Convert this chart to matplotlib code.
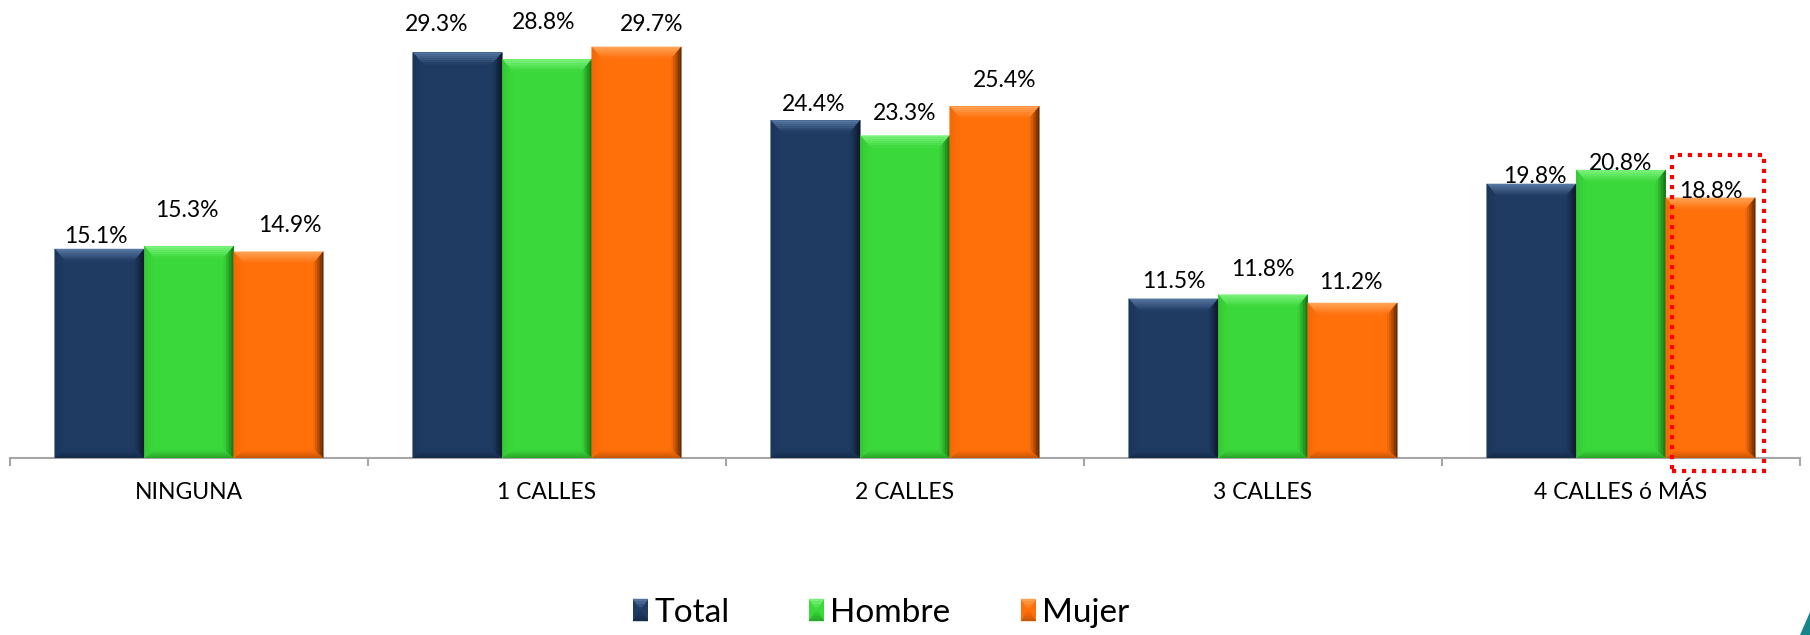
import matplotlib
matplotlib.use("Agg")
import matplotlib.pyplot as plt
from matplotlib.patches import Polygon, Rectangle
from matplotlib import font_manager as fm
import numpy as np

# ---- data -------------------------------------------------------------
categories = ["NINGUNA", "1 CALLES", "2 CALLES", "3 CALLES", "4 CALLES ó MÁS"]
series_names = ["Total", "Hombre", "Mujer"]
total = [15.1, 29.3, 24.4, 11.5, 19.8]
hombre = [15.3, 28.8, 23.3, 11.8, 20.8]
mujer = [14.9, 29.7, 25.4, 11.2, 18.8]

# ---- label placement (pixels: lift of baseline above bar top, sideways shift)
label_lift = [[6, 21, 9, 11, 1],
              [29, 30, 16, 19, 0],
              [20, 16, 19, 14, 0]]
label_shift = [[-4, -21, -2, 0, 3],
               [-2, -3, 0, 0, 0],
               [11, 15, 10, -2, 0]]

# ---- styles -----------------------------------------------------------
base_colors = ["#1F3B62", "#3AD83A", "#FF6F0A"]
top_colors = ["#5A7BA6", "#80F480", "#FFA75A"]
right_colors = ["#0B1626", "#136A13", "#5A2400"]
bottom_colors = ["#142A47", "#27A327", "#C45504"]
left_colors = ["#1B3558", "#35C835", "#F26805"]

installed = {f.name for f in fm.fontManager.ttflist}
label_font = "Lato" if "Lato" in installed else "DejaVu Sans"

W, H, DPI = 1810, 635, 100
fig = plt.figure(figsize=(W / DPI, H / DPI), dpi=DPI)
ax_left, ax_bottom = 10 / W, 177 / H
ax_w, ax_h = 1790 / W, 458 / H
ax = fig.add_axes([ax_left, ax_bottom, ax_w, ax_h])

x = np.arange(len(categories))
bar_w = 0.25
xlim = (-0.5, len(categories) - 0.5)
ylim = (0, 33.09)
ax.set_xlim(*xlim)
ax.set_ylim(*ylim)

# data units per pixel
px_x = (xlim[1] - xlim[0]) / (ax_w * W)
px_y = (ylim[1] - ylim[0]) / (ax_h * H)


def hex2rgb(c):
    c = c.lstrip("#")
    return np.array([int(c[i:i + 2], 16) / 255 for i in (0, 2, 4)])


def band(target, o1, o2, i1, i2, c_out, c_in, n=5, transform=None, z=3):
    """Fill a bevel face between an outer edge (o1-o2) and inner edge (i1-i2)."""
    o1, o2, i1, i2 = map(np.array, (o1, o2, i1, i2))
    co, ci = hex2rgb(c_out), hex2rgb(c_in)
    for k in range(n):
        t0, t1 = k / n, (k + 1) / n
        pts = [o1 + (i1 - o1) * t0, o2 + (i2 - o2) * t0,
               o2 + (i2 - o2) * t1, o1 + (i1 - o1) * t1]
        col = co + (ci - co) * (k + 0.5) / n
        kw = {} if transform is None else {"transform": transform}
        p = Polygon(pts, closed=True, facecolor=col, edgecolor=col,
                    linewidth=0.3, zorder=z, **kw)
        if transform is None:
            target.add_patch(p)
        else:
            target.add_artist(p)


def bevel_bar(xc, h, si):
    x0, x1 = xc - bar_w / 2, xc + bar_w / 2
    bx, bt, bb = 10 * px_x, 12 * px_y, 8 * px_y
    base = base_colors[si]
    band(ax, (x0, h), (x1, h), (x0 + bx, h - bt), (x1 - bx, h - bt),
         top_colors[si], base, n=6)
    band(ax, (x1, h), (x1, 0), (x1 - bx, h - bt), (x1 - bx, bb),
         right_colors[si], base, n=6)
    band(ax, (x0, 0), (x1, 0), (x0 + bx, bb), (x1 - bx, bb),
         bottom_colors[si], base, n=4)
    band(ax, (x0, 0), (x0, h), (x0 + bx, bb), (x0 + bx, h - bt),
         left_colors[si], base, n=3)


all_series = [total, hombre, mujer]
offsets = [-bar_w, 0, bar_w]
for si, vals in enumerate(all_series):
    ax.bar(x + offsets[si], vals, width=bar_w, color=base_colors[si],
           linewidth=0, zorder=2, label=series_names[si])
    for ci, v in enumerate(vals):
        bevel_bar(x[ci] + offsets[si], v, si)
        ax.annotate(f"{v:.1f}%", xy=(x[ci] + offsets[si], v),
                    xytext=(label_shift[si][ci] * 0.72, label_lift[si][ci] * 0.72),
                    textcoords="offset points", ha="center", va="baseline",
                    fontsize=16.5, family=label_font, color="#000000", zorder=5)

# ---- axes styling -----------------------------------------------------
for s in ("left", "right", "top"):
    ax.spines[s].set_visible(False)
ax.spines["bottom"].set_color("#A6A6A6")
ax.spines["bottom"].set_linewidth(1.5)
ax.set_yticks([])
ax.set_xticks(x)
ax.set_xticklabels(categories, fontsize=16.5, family=label_font)
ax.set_xticks(np.arange(len(categories) + 1) - 0.5, minor=True)
ax.tick_params(axis="x", which="major", length=0, pad=17)
ax.tick_params(axis="x", which="minor", length=6, width=1.5, color="#A6A6A6",
               direction="out")

# highlight box around the last "Mujer" bar
hx0 = x[-1] + offsets[2] - bar_w / 2 + 6 * px_x
hx1 = x[-1] + offsets[2] + bar_w / 2 + 9 * px_x
hy0, hy1 = -0.94, 21.9
ax.add_patch(Rectangle((hx0, hy0), hx1 - hx0, hy1 - hy0, fill=False,
                       edgecolor="#FF0000", linewidth=3.0,
                       linestyle=(0, (1.0, 1.4)), joinstyle="miter",
                       clip_on=False, zorder=6))

# ---- legend (bevelled swatches + labels, in figure pixels) --------------
leg_x = [633, 809, 1021]        # swatch left edges
sw_w, sw_h = 15, 22
sw_top = 599
for i, name in enumerate(series_names):
    lx0, lx1 = leg_x[i] / W, (leg_x[i] + sw_w) / W
    ly1 = 1 - sw_top / H
    ly0 = 1 - (sw_top + sw_h) / H
    mx = (lx0 + lx1) / 2
    my = (ly0 + ly1) / 2
    fig.add_artist(Rectangle((lx0, ly0), lx1 - lx0, ly1 - ly0,
                             transform=fig.transFigure,
                             facecolor=base_colors[i], edgecolor="none"))
    band(fig, (lx0, ly1), (lx1, ly1), (mx, my), (mx, my),
         top_colors[i], base_colors[i], n=4, transform=fig.transFigure, z=4)
    band(fig, (lx0, ly0), (lx1, ly0), (mx, my), (mx, my),
         bottom_colors[i], base_colors[i], n=4, transform=fig.transFigure, z=4)
    fig.text((leg_x[i] + sw_w + 6) / W, 1 - 622 / H, name,
             family=label_font, fontsize=24, color="#000000",
             ha="left", va="baseline")

# teal corner accent
fig.add_artist(Polygon([(1800 / W, 0), (1.0, 23 / H), (1.0, 0)],
                       closed=True, transform=fig.transFigure,
                       facecolor="#17868A", edgecolor="none"))

fig.savefig("out.png", dpi=DPI)
